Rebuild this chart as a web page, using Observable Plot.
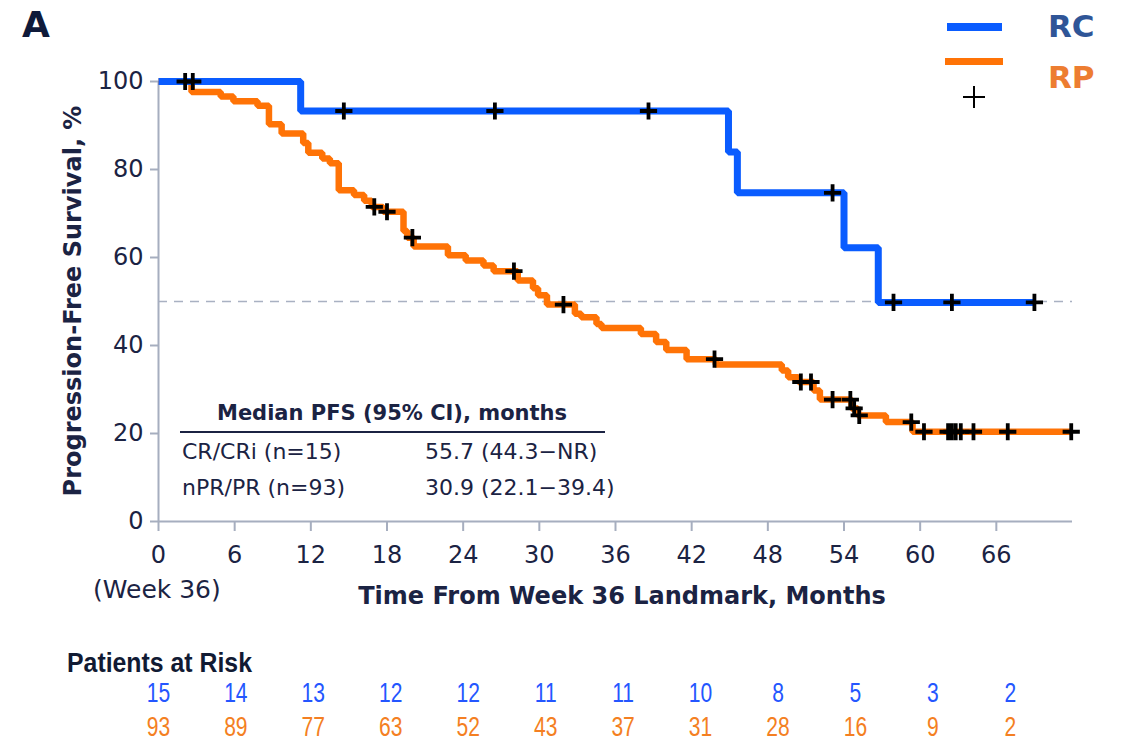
<!DOCTYPE html>
<html><head><meta charset="utf-8">
<script src="https://cdn.jsdelivr.net/npm/d3@7"></script>
<script src="https://cdn.jsdelivr.net/npm/@observablehq/plot@0.6"></script>
<style>
html,body{margin:0;padding:0;background:#fff;}
#wrap{position:relative;width:1122px;height:741px;overflow:hidden;background:#fff;}
#main,#risk,#overlay{position:absolute;left:0;}
#main{top:0;width:1122px;}
#risk{top:641px;width:1439px;height:100px;transform:scaleX(0.78);transform-origin:0 0;}
#main svg,#risk svg{max-width:none !important;}
#overlay{top:0;pointer-events:none;}
#main svg text{fill:#1b2343;}
#main g[aria-label*="axis"] line, #main g[aria-label*="axis"] path{stroke-width:2px;}
</style></head>
<body><div id="wrap"><div id="main"></div><div id="risk"></div><svg id="overlay" width="1122" height="741"></svg></div>
<script>
// ---- data ----
const xTicks = [0, 6, 12, 18, 24, 30, 36, 42, 48, 54, 60, 66];
const yTicks = [0, 20, 40, 60, 80, 100];

// CR/CRi (RC) Kaplan-Meier steps
const rcTimes = [0, 11.2, 44.9, 45.6, 54.0, 56.7, 69.0];
const rcSurv  = [100, 93.3, 84.0, 74.7, 62.2, 49.8, 49.8];
const rcCensorT = [2.7, 14.6, 26.5, 38.6, 53.1, 57.9, 62.5, 69.0];
const rcCensorS = [100, 93.3, 93.3, 93.3, 74.7, 49.8, 49.8, 49.8];

// nPR/PR (RP) Kaplan-Meier steps
const rpTimes = [0, 2.6, 4.9, 5.9, 7.8, 8.7, 9.7, 11.4, 11.8, 12.9, 13.5, 14.2, 15.4, 16.2, 16.8, 17.7, 19.3, 19.6, 20.1, 22.8, 24.2, 25.6, 26.4, 28.3, 29.5, 29.9, 30.6, 32.8, 33.3, 34.5, 34.9, 38.0, 39.2, 40.0, 41.6, 43.9, 49.1, 49.6, 50.4, 51.6, 52.1, 54.6, 55.1, 57.3, 59.4, 72];
const rpSurv  = [100, 97.6, 96.6, 95.5, 94.5, 90.3, 88.2, 86.0, 83.8, 82.5, 81.4, 75.3, 74.2, 72.9, 71.5, 70.4, 66.0, 64.5, 62.5, 60.5, 59.3, 58.2, 56.9, 54.8, 53.0, 51.4, 49.3, 47.2, 46.4, 44.9, 44.0, 42.6, 40.8, 39.0, 36.9, 35.7, 34.3, 32.8, 31.7, 29.8, 27.7, 25.7, 24.1, 22.6, 20.4, 20.4];
const rpCensorT = [2.1, 17.0, 18.0, 20.0, 28.0, 31.9, 43.8, 50.6, 51.4, 53.1, 54.5, 54.8, 55.2, 59.3, 60.3, 62.2, 62.5, 62.8, 63.2, 64.2, 66.9, 71.9];
const rpCensorS = [100, 71.5, 70.4, 64.5, 56.9, 49.3, 36.9, 31.7, 31.7, 27.7, 27.7, 25.7, 24.1, 22.6, 20.4, 20.4, 20.4, 20.4, 20.4, 20.4, 20.4, 20.4];

// Patients at risk
const riskTimes = [0, 6, 12, 18, 24, 30, 36, 42, 48, 54, 60, 66];
const riskRC = [15, 14, 13, 12, 12, 11, 11, 10, 8, 5, 3, 2];
const riskRP = [93, 89, 77, 63, 52, 43, 37, 31, 28, 16, 9, 2];

// Median table
const medianRows = ["CR/CRi (n=15)", "nPR/PR (n=93)"];
const medianVals = ["55.7 (44.3\u2212NR)", "30.9 (22.1\u221239.4)"];

// ---- colours ----
const BLUE = "#0a5cff", ORANGE = "#ff7306", AXIS = "#a6aebf", NAVY = "#1b2343";
const FONT = "'DejaVu Sans', 'Liberation Sans', sans-serif";
const ARIAL = "'Liberation Sans', Arial, sans-serif";
const SQ = 0.78; // horizontal squeeze of the risk table (narrow font look)

const rc = rcTimes.map((t, i) => ({t, s: rcSurv[i]}));
const rp = rpTimes.map((t, i) => ({t, s: rpSurv[i]}));
const cens = rcCensorT.map((t, i) => ({t, s: rcCensorS[i]}))
  .concat(rpCensorT.map((t, i) => ({t, s: rpCensorS[i]})));

const main = Plot.plot({
  width: 1122, height: 620,
  marginTop: 81, marginBottom: 99, marginLeft: 158, marginRight: 50,
  style: {fontFamily: FONT, fontSize: "24px", color: AXIS, background: "transparent", overflow: "visible"},
  x: {domain: [0, 72], ticks: xTicks, tickSize: 10, tickPadding: 14, tickFormat: d => String(d), label: null},
  y: {domain: [0, 100], ticks: yTicks, tickSize: 8, tickPadding: 7, tickFormat: d => String(d), label: null},
  marks: [
    Plot.ruleY([50], {stroke: "#a9b1c2", strokeWidth: 1.6, strokeDasharray: "9,7"}),
    Plot.ruleY([0], {stroke: AXIS, strokeWidth: 2}),
    Plot.ruleX([0], {stroke: AXIS, strokeWidth: 2}),
    Plot.line(rp, {x: "t", y: "s", curve: "step-after", stroke: ORANGE, strokeWidth: 6.5, strokeLinejoin: "miter", strokeLinecap: "butt"}),
    Plot.line(rc, {x: "t", y: "s", curve: "step-after", stroke: BLUE, strokeWidth: 7, strokeLinejoin: "miter", strokeLinecap: "butt"}),
    Plot.dot(cens, {x: "t", y: "s", symbol: "plus", r: 5.6, stroke: "#000", strokeWidth: 3.8})
  ]
});
document.getElementById("main").appendChild(main);

const riskA = riskTimes.map((t, i) => ({t, n: riskRC[i], g: "CR/CRi"}));
const riskB = riskTimes.map((t, i) => ({t, n: riskRP[i], g: "nPR/PR"}));
const risk = Plot.plot({
  width: 1439, height: 100, marginTop: 0, marginBottom: 0, marginLeft: 0, marginRight: 0,
  style: {fontFamily: ARIAL, fontSize: "27px", background: "transparent", overflow: "visible"},
  x: {domain: [0, 66], range: [158 / SQ, 1010 / SQ], axis: null},
  y: {type: "point", domain: ["CR/CRi", "nPR/PR"], range: [52, 86], padding: 0, axis: null},
  marks: [
    Plot.text(riskA, {x: "t", y: "g", text: d => String(d.n), fill: "#2456ff", fontSize: 27}),
    Plot.text(riskB, {x: "t", y: "g", text: d => String(d.n), fill: "#f47f22", fontSize: 27})
  ]
});
document.getElementById("risk").appendChild(risk);

// ---- annotations ----
const ov = d3.select("#overlay");
function txt(x, y, s, o = {}) {
  const t = ov.append("text").attr("x", x).attr("y", y).text(s)
    .attr("font-family", o.family || FONT).attr("font-size", o.size || 24)
    .attr("font-weight", o.weight || "normal").attr("fill", o.fill || NAVY)
    .attr("text-anchor", o.anchor || "start");
  if (o.transform) t.attr("transform", o.transform);
  return t;
}
txt(22, 37, "A", {size: 36, weight: "bold", fill: "#0f1a3a"});
txt(0, 0, "Progression-Free Survival, %", {size: 24, weight: "bold", anchor: "middle", transform: "translate(81,301) rotate(-90)"});
txt(622, 604, "Time From Week 36 Landmark, Months", {size: 24, weight: "bold", anchor: "middle"});
txt(93, 598, "(Week 36)", {size: 25});
// median table
txt(392, 420, "Median PFS (95% CI), months", {size: 21, weight: "bold", anchor: "middle"});
ov.append("line").attr("x1", 180).attr("x2", 605).attr("y1", 432).attr("y2", 432).attr("stroke", NAVY).attr("stroke-width", 2);
medianRows.forEach((r, i) => {
  txt(182, 459 + i * 36, r, {size: 22});
  txt(425, 459 + i * 36, medianVals[i], {size: 22});
});
// patients at risk title
txt(0, 0, "Patients at Risk", {family: ARIAL, size: 27, weight: "bold", fill: "#111a33", transform: "translate(67,672) scale(0.92,1)"});
// legend
ov.append("line").attr("x1", 947).attr("x2", 1002).attr("y1", 27).attr("y2", 27).attr("stroke", BLUE).attr("stroke-width", 8);
ov.append("line").attr("x1", 945).attr("x2", 1003).attr("y1", 61.5).attr("y2", 61.5).attr("stroke", ORANGE).attr("stroke-width", 7);
ov.append("path").attr("d", "M963,97H985M974,86V108").attr("stroke", "#000").attr("stroke-width", 2).attr("fill", "none");
txt(1048, 37, "RC", {size: 31, weight: "bold", fill: "#2f5597"});
txt(1048, 88, "RP", {size: 31, weight: "bold", fill: "#ed7d31"});
</script>
</body></html>
